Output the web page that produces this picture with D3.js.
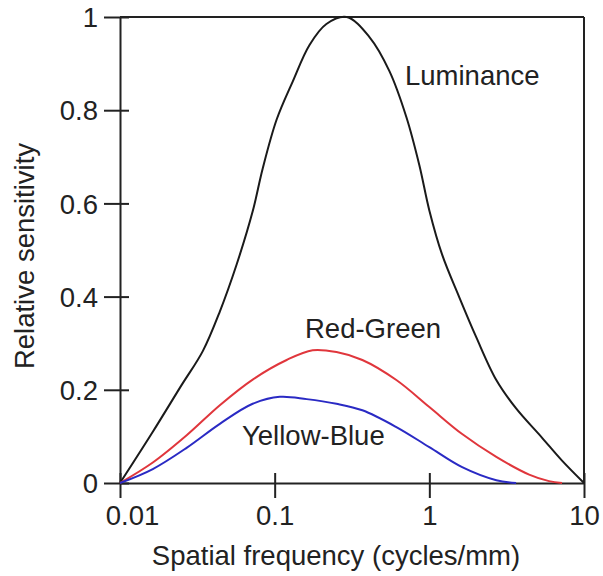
<!DOCTYPE html>
<html>
<head>
<meta charset="utf-8">
<script src="https://cdn.jsdelivr.net/npm/d3@7"></script>
<style>
  html, body { margin: 0; padding: 0; background: #fff; }
  svg text { font-family: "Liberation Sans", Arial, Helvetica, sans-serif; fill: #222; }
</style>
</head>
<body>
<div id="chart"></div>
<script>
// Spatial contrast sensitivity: luminance vs. chromatic channels.
// Values (frequency in cycles/mm, sensitivity 0..1).

const luminanceFreq = [0.01, 0.0163, 0.025, 0.0343, 0.0442, 0.0569, 0.0721, 0.0837, 0.103, 0.131, 0.168, 0.216, 0.292,
                       0.41, 0.552, 0.711, 0.862, 1.0, 1.21, 1.56, 2.01, 2.71, 3.64, 5.36, 7.21, 10];
const luminanceVals = [0, 0.110, 0.210, 0.283, 0.368, 0.470, 0.583, 0.675, 0.780, 0.862, 0.940, 0.985, 1.0,
                       0.957, 0.884, 0.785, 0.682, 0.585, 0.490, 0.399, 0.313, 0.221, 0.160, 0.097, 0.048, 0];

const redGreenFreq = [0.01, 0.0163, 0.0271, 0.0442, 0.0721, 0.1195, 0.176, 0.251, 0.369, 0.612, 1.0, 1.63, 2.71, 4.42, 5.94, 7.21];
const redGreenVals = [0, 0.044, 0.103, 0.167, 0.222, 0.264, 0.285, 0.281, 0.264, 0.221, 0.163, 0.105, 0.056, 0.018, 0.004, 0];

const yellowBlueFreq = [0.01, 0.0163, 0.0271, 0.0442, 0.0721, 0.108, 0.161, 0.251, 0.369, 0.612, 1.0, 1.63, 2.71, 3.64];
const yellowBlueVals = [0, 0.030, 0.076, 0.127, 0.170, 0.185, 0.180, 0.170, 0.156, 0.120, 0.077, 0.034, 0.006, 0];

const xTicks = [0.01, 0.1, 1, 10];
const xTickLabels = ["0.01", "0.1", "1", "10"];
const yTicks = [0, 0.2, 0.4, 0.6, 0.8, 1];
const yTickLabels = ["0", "0.2", "0.4", "0.6", "0.8", "1"];

const seriesNames = ["Luminance", "Red-Green", "Yellow-Blue"];
const seriesColors = ["#1a1a1a", "#e0363c", "#2a2ac4"];

function zip(xs, ys) { return xs.map((f, i) => ({ f: f, v: ys[i] })); }

const series = [
    zip(luminanceFreq, luminanceVals),
    zip(redGreenFreq, redGreenVals),
    zip(yellowBlueFreq, yellowBlueVals)
];

// label anchors (pixel positions of the in-plot labels)
const labelPos = [[405, 85], [305, 338], [242, 445]];

const width = 603, height = 576;
const margin = { top: 17, right: 19, bottom: 93, left: 120 };
const fontSize = "27.5px";

const svg = d3.select("#chart").append("svg")
    .attr("width", width)
    .attr("height", height);

const x = d3.scaleLog()
    .domain([0.01, 10])
    .range([margin.left, width - margin.right]);

const y = d3.scaleLinear()
    .domain([0, 1])
    .range([height - margin.bottom, margin.top]);

const axisColor = "#222";

// frame: top and right edges
svg.append("line")
    .attr("x1", x(0.01)).attr("x2", x(10))
    .attr("y1", y(1)).attr("y2", y(1))
    .attr("stroke", axisColor).attr("stroke-width", 2);
svg.append("line")
    .attr("x1", x(10)).attr("x2", x(10))
    .attr("y1", y(1)).attr("y2", y(0))
    .attr("stroke", axisColor).attr("stroke-width", 2);

// X axis
const xAxis = svg.append("g")
    .attr("transform", `translate(0,${y(0)})`)
    .call(d3.axisBottom(x)
        .tickValues(xTicks)
        .tickFormat((d, i) => xTickLabels[i])
        .tickSizeOuter(0));

xAxis.select(".domain").attr("stroke", axisColor).attr("stroke-width", 2);
xAxis.selectAll(".tick line")
    .attr("stroke", axisColor).attr("stroke-width", 2)
    .attr("y1", -10).attr("y2", 15);
xAxis.selectAll(".tick text")
    .attr("y", 42).attr("dy", 0)
    .attr("dx", (d, i) => i === 0 ? 12 : 0)
    .attr("font-size", fontSize)
    .attr("fill", "#222")
    .style("font-family", "'Liberation Sans', Arial, sans-serif");

// Y axis
const yAxis = svg.append("g")
    .attr("transform", `translate(${x(0.01)},0)`)
    .call(d3.axisLeft(y)
        .tickValues(yTicks)
        .tickFormat((d, i) => yTickLabels[i])
        .tickSizeOuter(0));

yAxis.select(".domain").attr("stroke", axisColor).attr("stroke-width", 2);
yAxis.selectAll(".tick line")
    .attr("stroke", axisColor).attr("stroke-width", 2)
    .attr("x1", 9).attr("x2", -16);
yAxis.selectAll(".tick text")
    .attr("x", -22).attr("dy", "0.35em")
    .attr("font-size", fontSize)
    .attr("fill", "#222")
    .style("font-family", "'Liberation Sans', Arial, sans-serif");

// curves
const line = d3.line()
    .x(d => x(d.f))
    .y(d => y(d.v))
    .curve(d3.curveCatmullRom.alpha(0.5));

svg.selectAll(".curve")
    .data(series)
    .enter()
    .append("path")
    .attr("class", "curve")
    .attr("d", line)
    .attr("fill", "none")
    .attr("stroke", (d, i) => seriesColors[i])
    .attr("stroke-width", 2);

// series labels
svg.selectAll(".series-label")
    .data(seriesNames)
    .enter()
    .append("text")
    .attr("class", "series-label")
    .attr("x", (d, i) => labelPos[i][0])
    .attr("y", (d, i) => labelPos[i][1])
    .attr("font-size", fontSize)
    .text(d => d);

// axis titles
svg.append("text")
    .attr("x", 336)
    .attr("y", 565)
    .attr("text-anchor", "middle")
    .attr("font-size", fontSize)
    .text("Spatial frequency (cycles/mm)");

svg.append("text")
    .attr("transform", "translate(34,256) rotate(-90)")
    .attr("text-anchor", "middle")
    .attr("font-size", fontSize)
    .text("Relative sensitivity");
</script>
</body>
</html>
